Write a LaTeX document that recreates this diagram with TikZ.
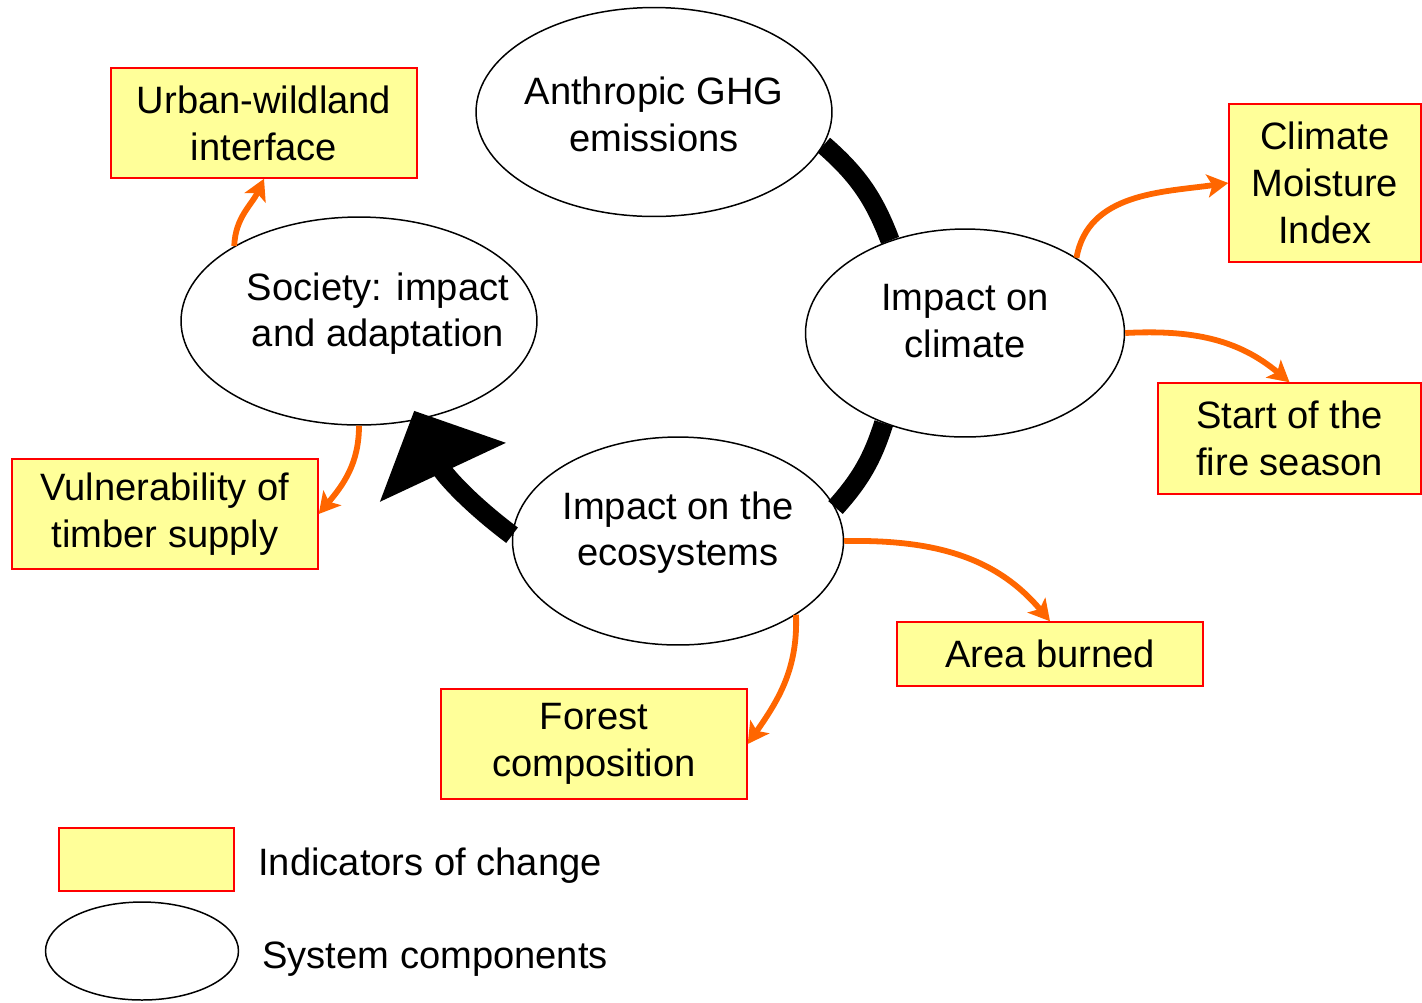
\documentclass[tikz,border=0pt]{standalone}
\usepackage{fontspec}
\setmainfont{Liberation Sans}
\usetikzlibrary{arrows.meta,positioning,shapes.geometric}
\definecolor{cIndicator}{HTML}{FFFF99}
\definecolor{cIndicatorEdge}{HTML}{FF0000}
\definecolor{cLink}{HTML}{FF6600}

\begin{document}
\begin{tikzpicture}[x=0.02cm, y=0.02cm,
    component/.style={draw, ellipse, line width=0.85pt, inner sep=0pt},
    comptext/.style={align=center, inner sep=0pt, font=\fontsize{21.7}{26.6}\selectfont},
    indicator/.style={draw=cIndicatorEdge, fill=cIndicator, line width=0.85pt, inner sep=0pt,
        minimum width=6.12cm, minimum height=2.2cm, align=center,
        font=\fontsize{21.7}{26.6}\selectfont},
    loopline/.style={line width=11pt},
    indlink/.style={cLink, line width=3.3pt, -{Stealth[length=0.42cm, width=0.46cm, inset=0.1cm]}}
]
\useasboundingbox (0,0) rectangle (1422,-1002);

% System components
\node[component, minimum width=7.12cm, minimum height=4.18cm] (ghg) at (654,-112) {};
\node[component, minimum width=6.38cm, minimum height=4.16cm] (clim) at (965,-333) {};
\node[component, minimum width=6.62cm, minimum height=4.16cm] (eco) at (678,-541) {};
\node[component, minimum width=7.12cm, minimum height=4.16cm] (soc) at (359,-321) {};
\node[comptext] (ghgtext) at ([yshift=-0.04cm]ghg.center) {Anthropic GHG\\emissions};
\node[comptext] (climtext) at ([yshift=0.24cm]clim.center) {Impact on\\climate};
\node[comptext] (ecotext) at ([yshift=0.17cm]eco.center) {Impact on the\\ecosystems};
\node[comptext] (soctext) at ([xshift=0.38cm, yshift=0.15cm]soc.center) {Society: impact\\and adaptation};

% Indicators of change
\node[indicator] (urban) at (264,-123) {Urban-wildland\\interface};
\node[indicator, minimum width=3.84cm, minimum height=3.16cm] (cmi) at (1325,-183) {Climate\\Moisture\\Index};
\node[indicator, minimum width=5.26cm, minimum height=2.22cm] (start) at (1289.5,-438.5) {Start of the\\fire season};
\node[indicator] (vuln) at (165,-514) {Vulnerability of\\timber supply};
\node[indicator, minimum height=1.28cm] (area) at (1050,-654) {Area burned};
\node[indicator] (forest) at (594,-744) {Forest\\composition};

% Main cycle
\draw[loopline] (ghg.-11) to[bend left=14] (clim.129);
\draw[loopline] (clim.228) to[bend left=12] (eco.12);
\draw[loopline, -{Triangle[length=1.36cm, width=2.7cm]}, shorten >=-0.2cm] (eco.178) to[bend left=14] (soc.-59);

% Links to indicators
\draw[indlink] (soc.149) to[out=88, in=-115] (urban.south);
\draw[indlink] (soc.south) to[out=-90, in=50] (vuln.east);
\draw[indlink] (clim.34) to[out=80, in=188] (cmi.west);
\draw[indlink] (clim.east) to[out=3, in=140] (start.north);
\draw[indlink] (eco.east) to[out=1, in=130] (area.north);
\draw[indlink] (eco.-32) to[out=-88, in=55] (forest.east);

% Legend
\node[indicator, minimum width=3.5cm, minimum height=1.26cm] (legbox) at (146.5,-859.5) {};
\node[comptext, anchor=base west] (legboxtext) at (258,-875) {Indicators of change};
\node[component, minimum width=3.86cm, minimum height=1.96cm] (legell) at (142,-951) {};
\node[comptext, anchor=base west] (legelltext) at (262,-968) {System components};

\end{tikzpicture}
\end{document}
